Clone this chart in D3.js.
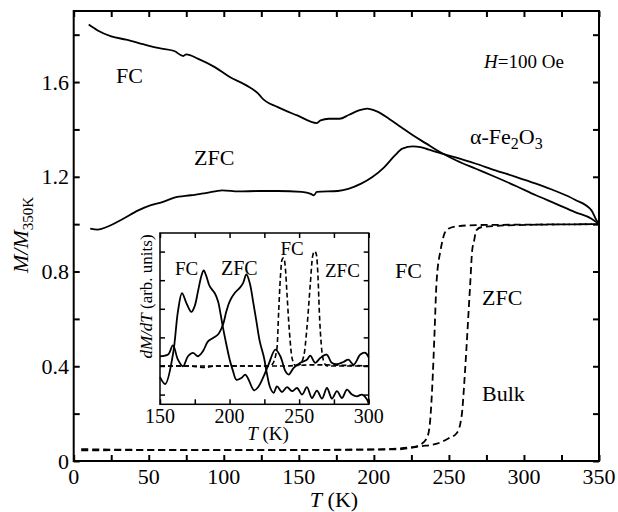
<!DOCTYPE html>
<html>
<head>
<meta charset="utf-8">
<script src="https://cdn.jsdelivr.net/npm/d3@7"></script>
<style>
  body { margin: 0; background: #fff; }
  svg text { font-family: "Liberation Serif", "DejaVu Serif", serif; fill: #000; }
</style>
</head>
<body>
<script>
// main panel: M/M350K vs T, nanoparticles (solid) and bulk (dashed)
var fcMain = [[10,1.843],[16,1.818],[25,1.793],[35,1.779],[49,1.755],[57,1.743],[67,1.731],
  [73,1.710],[75,1.717],[83,1.698],[94,1.663],[104,1.621],[115,1.586],[124,1.544],[125,1.536],
  [136,1.494],[149,1.459],[162,1.427],[164.5,1.438],[170,1.445],[177,1.445],[183.5,1.462],
  [190,1.480],[195.5,1.488],[202,1.476],[210,1.445],[218,1.410],[226,1.375],[235,1.340],
  [242,1.312],[255,1.269],[268,1.234],[281,1.199],[295,1.160],[308,1.122],[321,1.087],
  [334,1.051],[345,1.023],[350,1.0]];
var zfcMain = [[11,0.981],[16,0.977],[22,0.988],[33,1.023],[43,1.058],[51,1.079],[59,1.093],
  [67,1.112],[78,1.122],[88,1.131],[99,1.143],[110,1.138],[123,1.140],[136,1.140],[152,1.136],
  [158,1.128],[160,1.122],[162,1.136],[176,1.140],[183.5,1.150],[191.5,1.171],[199,1.199],
  [207,1.241],[214,1.290],[219,1.319],[226,1.328],[231,1.325],[236,1.316],[242,1.304],
  [255,1.281],[268,1.255],[281,1.227],[295,1.199],[308,1.171],[321,1.140],[334,1.103],
  [345,1.058],[348,1.02],[350,1.0]];
var fcBulk = [[5,0.050],[50,0.047],[110,0.046],[202,0.049],[226,0.059],[232,0.073],[236,0.108],
  [237.7,0.186],[239,0.327],[240.4,0.538],[241.7,0.749],[244.4,0.889],[245.7,0.930],[247,0.960],
  [249.6,0.981],[255,0.991],[268,0.996],[300,0.998],[350,1.0]];
var zfcBulk = [[5,0.045],[50,0.046],[110,0.046],[215,0.049],[231,0.062],[242,0.073],[249.6,0.095],
  [255,0.116],[257.6,0.158],[258.9,0.214],[260.2,0.327],[261.6,0.467],[262.9,0.608],[264.2,0.749],
  [265.5,0.889],[266.8,0.930],[268.2,0.974],[272,0.988],[295,0.996],[350,1.0]];

// inset: dM/dT (arb. units)
var fcDeriv = [[150,0.61],[153.8,0.37],[159.3,1.40],[162.9,2.91],[165.8,3.55],[168.9,3.21],
  [172.5,2.89],[174.9,3.09],[177.3,3.61],[179.7,4.14],[181.4,4.34],[183.3,4.14],[185.7,3.79],
  [189.3,3.55],[191.7,3.26],[193.6,2.80],[195.3,2.33],[197.7,1.75],[200.1,1.22],[202.5,0.82],
  [204.9,0.52],[208.5,0.58],[211.3,0.70],[213.7,0.52],[217.6,0.15],[220.5,0.26],[224,0.58],
  [228,1.05],[232.9,1.57],[236.5,1.34],[240.1,0.82],[242.5,0.70],[246.1,0.93],[250.9,1.11],
  [255.6,1.22],[258,1.36],[261.6,1.11],[265.2,1.28],[269.8,1.40],[273.4,1.11],[277,1.06],
  [281.8,1.14],[285.4,1.22],[289.2,1.05],[294,1.40],[297.6,1.46],[300,1.30]];
var zfcDeriv = [[150,1.34],[155.8,1.40],[159.3,1.72],[162.9,1.22],[166.5,0.99],[170.1,1.34],
  [173.7,1.46],[177.3,1.34],[180.9,1.52],[184.5,1.86],[188.1,1.98],[191.7,2.10],[195.3,2.45],
  [197.7,2.91],[200.1,3.26],[203.7,3.55],[207.3,3.73],[209.7,3.90],[212.1,4.20],[214.5,3.90],
  [216.9,3.26],[219.3,2.56],[221.7,1.86],[224.8,1.28],[226.5,0.82],[229.3,0.23],[231.7,0.06],
  [234.1,0.29],[237.7,0.09],[241.3,0.26],[244.9,0.12],[248.5,0.23],[252.1,0.0],[255.6,0.26],
  [259.2,-0.12],[262.8,0.14],[266.4,-0.14],[270,0.23],[273.6,-0.14],[277.2,0.12],[280.8,-0.12],
  [284.4,0.17],[288,0.0],[291.6,-0.06],[295.2,0.0],[298.8,-0.17],[300,-0.32]];
var fcBulkDeriv = [[150,1.0],[170,1.0],[182,0.95],[190,1.0],[228,1.0],[230.5,1.05],[234.1,1.63],
  [235.3,2.91],[236.5,4.08],[237.7,4.72],[238.9,4.78],[240.1,4.43],[241.3,3.50],[243,2.21],
  [244.9,1.28],[247.3,1.02],[260,1.04],[300,1.0]];
var zfcBulkDeriv = [[150,1.0],[200,1.0],[240,1.0],[250,1.04],[253.3,1.34],[255.6,2.33],
  [258,3.85],[259.7,4.84],[261.2,5.01],[262.4,4.90],[263.6,4.08],[264.5,2.91],[265.9,1.75],
  [267.6,1.17],[270,1.0],[300,1.0]];

var mainXTicks = [0, 50, 100, 150, 200, 250, 300, 350];
var mainYTicks = [0, 0.4, 0.8, 1.2, 1.6];
var insetXTicks = [150, 200, 250, 300];

var serif = "'Liberation Serif', 'DejaVu Serif', serif";

var svg = d3.select("body").append("svg")
  .attr("width", 618).attr("height", 512)
  .attr("font-family", serif);

var x = d3.scaleLinear().domain([0, 350]).range([73.7, 599]);
var y = d3.scaleLinear().domain([0, 1.9]).range([461, 11]);

// ticks inward on all four sides
function frame(g, sx, sy, xStep, yStep, len, w) {
  var xr = sx.range(), yr = sy.range();
  g.append("rect")
    .attr("x", xr[0]).attr("y", yr[1])
    .attr("width", xr[1] - xr[0]).attr("height", yr[0] - yr[1])
    .attr("fill", "none").attr("stroke", "#000").attr("stroke-width", w);
  g.append("g").attr("transform", "translate(0," + yr[0] + ")")
    .call(d3.axisBottom(sx).tickValues(xStep).tickSizeInner(-len).tickSizeOuter(0).tickFormat(""));
  g.append("g").attr("transform", "translate(0," + yr[1] + ")")
    .call(d3.axisTop(sx).tickValues(xStep).tickSizeInner(-len).tickSizeOuter(0).tickFormat(""));
  g.append("g").attr("transform", "translate(" + xr[0] + ",0)")
    .call(d3.axisLeft(sy).tickValues(yStep).tickSizeInner(-len).tickSizeOuter(0).tickFormat(""));
  g.append("g").attr("transform", "translate(" + xr[1] + ",0)")
    .call(d3.axisRight(sy).tickValues(yStep).tickSizeInner(-len).tickSizeOuter(0).tickFormat(""));
  g.selectAll(".domain").remove();
  g.selectAll(".tick line").attr("stroke", "#000").attr("stroke-width", w);
}

var main = svg.append("g");
frame(main, x, y, d3.range(0, 351, 25), d3.range(0, 1.81, 0.2), 6, 2);

function txt(parent, px, py, size) {
  return parent.append("text").attr("x", px).attr("y", py)
    .style("font-family", serif).style("font-size", size + "px");
}

mainXTicks.forEach(function(d) {
  txt(svg, x(d), 484, 22).attr("text-anchor", "middle").text(d);
});
mainYTicks.forEach(function(d) {
  txt(svg, 69, y(d) + 7.7, 22).attr("text-anchor", "end")
    .text(d === 0 ? "0" : d3.format(".1f")(d));
});

var xt = txt(svg, 334, 507, 22).attr("text-anchor", "middle");
xt.append("tspan").style("font-style", "italic").text("T");
xt.append("tspan").text(" (K)");

var yt = txt(svg, 0, 0, 22).attr("transform", "translate(28,235) rotate(-90)")
  .attr("text-anchor", "middle");
yt.append("tspan").style("font-style", "italic").text("M/M");
yt.append("tspan").attr("dy", 5).style("font-size", "15px").text("350K");

var lineMain = d3.line()
  .x(function(d) { return x(d[0]); })
  .y(function(d) { return y(d[1]); })
  .curve(d3.curveMonotoneX);

[fcMain, zfcMain].forEach(function(s) {
  main.append("path").datum(s).attr("d", lineMain)
    .attr("fill", "none").attr("stroke", "#000").attr("stroke-width", 1.8);
});
[fcBulk, zfcBulk].forEach(function(s) {
  main.append("path").datum(s).attr("d", lineMain)
    .attr("fill", "none").attr("stroke", "#000").attr("stroke-width", 1.8)
    .attr("stroke-dasharray", "7,4");
});

txt(svg, 116, 83, 22).text("FC");
txt(svg, 194, 165, 22).text("ZFC");
txt(svg, 395, 278, 22).text("FC");
txt(svg, 482, 305, 22).text("ZFC");
txt(svg, 482, 401, 22).text("Bulk");

var hl = txt(svg, 484, 68, 19);
hl.append("tspan").style("font-style", "italic").text("H");
hl.append("tspan").text("=100 Oe");

var fe = txt(svg, 470, 144, 22);
fe.append("tspan").text("\u03b1-Fe");
fe.append("tspan").attr("dy", 5).style("font-size", "16px").text("2");
fe.append("tspan").attr("dy", -5).text("O");
fe.append("tspan").attr("dy", 5).style("font-size", "16px").text("3");

// inset
var ix = d3.scaleLinear().domain([150, 300]).range([160, 368.7]);
var iy = d3.scaleLinear().domain([-0.34, 5.65]).range([404.3, 233]);

var inset = svg.append("g");
inset.append("rect").attr("x", 160).attr("y", 233).attr("width", 208.7).attr("height", 171.3)
  .attr("fill", "#fff");
frame(inset, ix, iy, d3.range(150, 301, 25), d3.range(0, 6, 1), 5, 1.5);

insetXTicks.forEach(function(d) {
  txt(svg, ix(d), 423, 20).attr("text-anchor", "middle").text(d);
});

var ixt = txt(svg, 268, 440, 19).attr("text-anchor", "middle");
ixt.append("tspan").style("font-style", "italic").text("T");
ixt.append("tspan").text(" (K)");

var iyt = txt(svg, 0, 0, 17).attr("transform", "translate(152,296.5) rotate(-90)")
  .attr("text-anchor", "middle");
iyt.append("tspan").style("font-style", "italic").text("dM/dT");
iyt.append("tspan").text(" (arb. units)");

var lineInset = d3.line()
  .x(function(d) { return ix(d[0]); })
  .y(function(d) { return iy(d[1]); })
  .curve(d3.curveCatmullRom);
var lineInsetDash = d3.line()
  .x(function(d) { return ix(d[0]); })
  .y(function(d) { return iy(d[1]); })
  .curve(d3.curveMonotoneX);

[fcDeriv, zfcDeriv].forEach(function(s) {
  inset.append("path").datum(s).attr("d", lineInset)
    .attr("fill", "none").attr("stroke", "#000").attr("stroke-width", 1.8);
});
[fcBulkDeriv, zfcBulkDeriv].forEach(function(s) {
  inset.append("path").datum(s).attr("d", lineInsetDash)
    .attr("fill", "none").attr("stroke", "#000").attr("stroke-width", 1.6)
    .attr("stroke-dasharray", "5,3");
});

txt(svg, 175, 274.5, 19).text("FC");
txt(svg, 221, 274.5, 20).text("ZFC");
txt(svg, 280.5, 254.5, 19).text("FC");
txt(svg, 325, 277, 19).text("ZFC");
</script>
</body>
</html>
